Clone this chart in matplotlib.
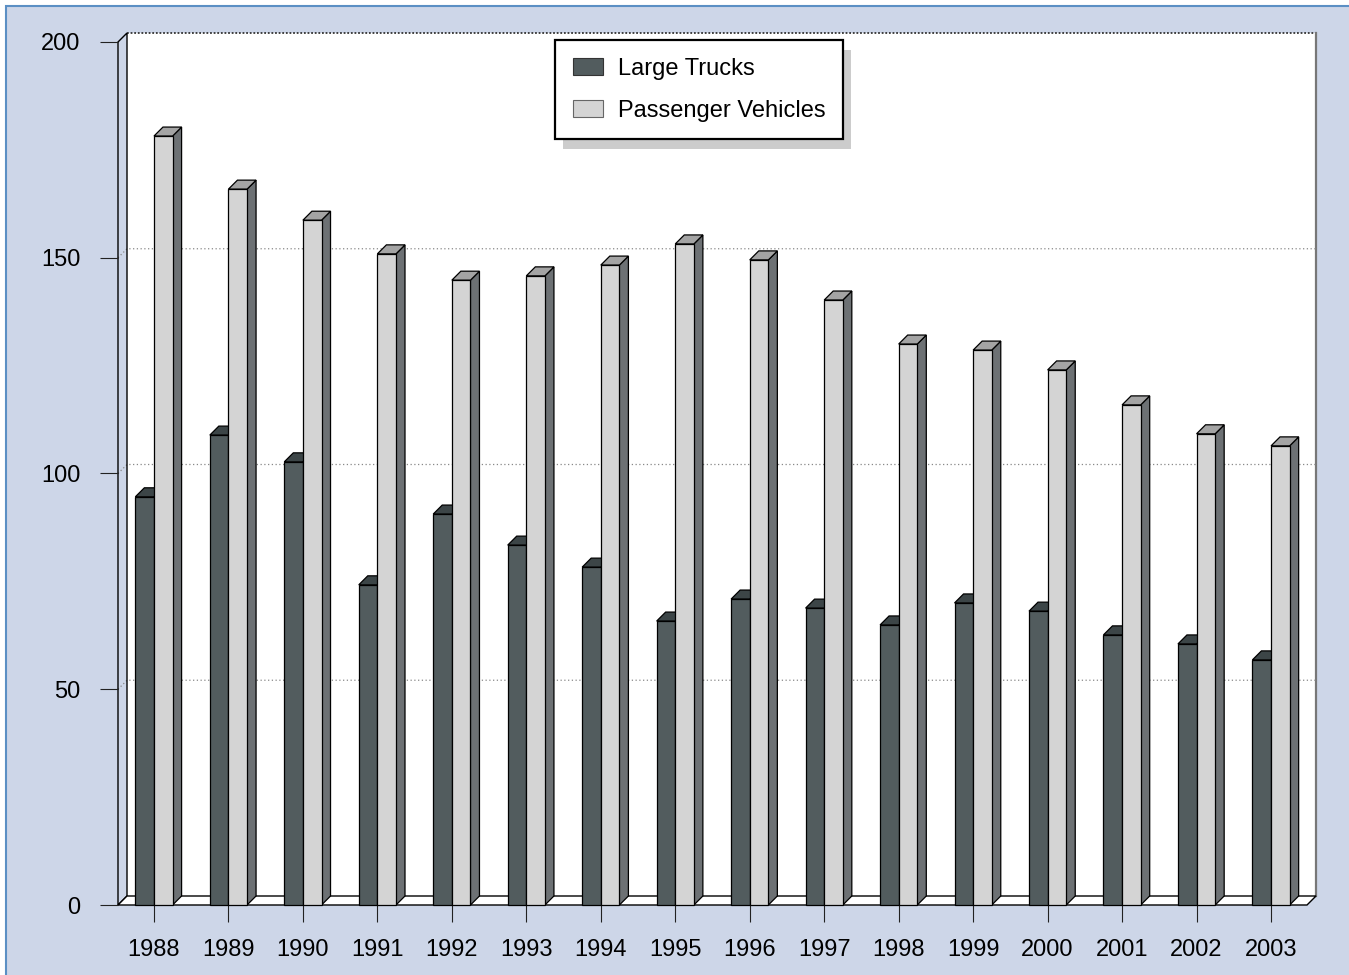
import matplotlib
matplotlib.use("Agg")
import matplotlib.pyplot as plt
from matplotlib.patches import Polygon, Rectangle
from matplotlib.lines import Line2D

plt.rcParams["font.family"] = ["Liberation Sans", "DejaVu Sans"]

# --- data -------------------------------------------------------------
years = ["1988", "1989", "1990", "1991", "1992", "1993", "1994", "1995",
         "1996", "1997", "1998", "1999", "2000", "2001", "2002", "2003"]
large_trucks = [94.6, 108.9, 102.7, 74.2, 90.6, 83.4, 78.3, 65.8,
                70.9, 68.8, 64.9, 70.0, 68.1, 62.6, 60.5, 56.8]
passenger_vehicles = [178.2, 165.9, 158.7, 150.9, 144.8, 145.8, 148.3, 153.2,
                      149.5, 140.2, 130.0, 128.6, 124.0, 115.9, 109.2, 106.4]
y_ticks = [0, 50, 100, 150, 200]
series_labels = ["Large Trucks", "Passenger Vehicles"]

# --- styling ----------------------------------------------------------
W, H, DPI = 1349, 975, 100
BG = "#cdd6e8"
FRAME_BLUE = "#5b8fc4"
TRUCK_FRONT, TRUCK_TOP = "#525c5e", "#3c4547"
PASS_FRONT, PASS_SIDE, PASS_TOP = "#d4d4d4", "#6d7174", "#a4a4a4"
FS = 17
BAR_W = 0.25
DEPTH_PX = 9.0

fig = plt.figure(figsize=(W / DPI, H / DPI), dpi=DPI)
fig.patch.set_facecolor("white")

# panel background with thin blue border on the top/left
fig.add_artist(Rectangle((6 / W, -0.05), 1.1, (H - 6) / H + 0.05,
                         transform=fig.transFigure, facecolor=BG,
                         edgecolor=FRAME_BLUE, linewidth=1.5, zorder=-10))

n = len(years)
x = list(range(n))
xmin, xmax = -0.483, n - 1 + 0.483
ymin, ymax = 0, 200

left_px, right_px, top_px, bot_px = 118, 1307, 42, 905
ax = fig.add_axes([left_px / W, 1 - bot_px / H,
                   (right_px - left_px) / W, (bot_px - top_px) / H])
ax.set_xlim(xmin, xmax)
ax.set_ylim(ymin, ymax)
ax.patch.set_visible(False)
for s in ax.spines.values():
    s.set_visible(False)

# depth offset in data units
px_per_x = (right_px - left_px) / (xmax - xmin)
px_per_y = (bot_px - top_px) / (ymax - ymin)
dx = DEPTH_PX / px_per_x
dy = DEPTH_PX / px_per_y


def poly(pts, fc, ec="black", lw=0.9, z=1, ls="-"):
    ax.add_patch(Polygon(pts, closed=True, facecolor=fc, edgecolor=ec,
                         linewidth=lw, zorder=z, clip_on=False,
                         joinstyle="miter", linestyle=ls))


# back wall
poly([(xmin + dx, ymin + dy), (xmax + dx, ymin + dy),
      (xmax + dx, ymax + dy), (xmin + dx, ymax + dy)], "white", ec="none", z=0.5)
ax.add_line(Line2D([xmin + dx, xmax + dx], [ymax + dy, ymax + dy], color="#333333",
                   lw=1.3, ls=(0, (1, 1)), zorder=0.6, clip_on=False))
ax.add_line(Line2D([xmax + dx, xmax + dx], [ymin + dy, ymax + dy], color="#777777",
                   lw=1.6, zorder=0.6, clip_on=False))

# gridlines on back wall and left wall
for v in y_ticks[1:-1]:
    ax.add_line(Line2D([xmin, xmin + dx, xmax + dx], [v, v + dy, v + dy],
                       color="#888888", lw=0.9, ls=(0, (1, 2)), zorder=0.6,
                       clip_on=False))

# left side wall
poly([(xmin, ymin), (xmin + dx, ymin + dy), (xmin + dx, ymax + dy), (xmin, ymax)],
     "none", ec="black", lw=1.0, z=0.7)

# floor
poly([(xmin, ymin), (xmax, ymin), (xmax + dx, ymin + dy), (xmin + dx, ymin + dy)],
     "white", ec="black", lw=1.0, z=0.8)

# bars
for i in x:
    t = large_trucks[i]
    p = passenger_vehicles[i]
    # large trucks (left of the tick)
    x0, x1 = i - BAR_W, i
    poly([(x1, 0), (x1 + dx, dy), (x1 + dx, t + dy), (x1, t)], TRUCK_FRONT, z=2)
    poly([(x0, t), (x1, t), (x1 + dx, t + dy), (x0 + dx, t + dy)], TRUCK_TOP, z=2)
    poly([(x0, 0), (x1, 0), (x1, t), (x0, t)], TRUCK_FRONT, z=2.1)
    # passenger vehicles (right of the tick)
    x0, x1 = i, i + BAR_W
    poly([(x1, 0), (x1 + dx, dy), (x1 + dx, p + dy), (x1, p)], PASS_SIDE, z=3)
    poly([(x0, p), (x1, p), (x1 + dx, p + dy), (x0 + dx, p + dy)], PASS_TOP, z=3)
    poly([(x0, 0), (x1, 0), (x1, p), (x0, p)], PASS_FRONT, z=3.1)

# axes ticks and labels
ax.set_xticks(x)
ax.set_xticklabels(years, fontsize=FS)
ax.set_yticks(y_ticks)
ax.set_yticklabels([str(v) for v in y_ticks], fontsize=FS)
ax.tick_params(axis="x", length=12.5, width=0.8, color="#222222", pad=12, direction="out")
ax.tick_params(axis="y", length=13, width=0.8, color="#222222", pad=14, direction="out")

# legend
handles = [Rectangle((0, 0), 1, 1, facecolor=TRUCK_FRONT, edgecolor="#333333", lw=0.8),
           Rectangle((0, 0), 1, 1, facecolor=PASS_FRONT, edgecolor="#666666", lw=0.8)]
leg = ax.legend(handles, series_labels, loc="upper left",
                bbox_to_anchor=(555 / W, 1 - 40 / H), bbox_transform=fig.transFigure,
                borderaxespad=0, fontsize=FS, frameon=True, fancybox=False,
                framealpha=1.0, facecolor="white",
                handlelength=1.3, handleheight=0.75, handletextpad=0.6,
                labelspacing=0.85, borderpad=0.75)
leg.get_frame().set_edgecolor("black")
leg.get_frame().set_linewidth(1.6)
leg.set_zorder(10)

fig.canvas.draw()
bb = leg.get_window_extent()
ax.add_patch(Rectangle((bb.x0 + 8, bb.y0 - 10), bb.width, bb.height, transform=None,
                       facecolor="#cccccc", edgecolor="none", zorder=9, clip_on=False))

fig.savefig("out.png", dpi=DPI)
